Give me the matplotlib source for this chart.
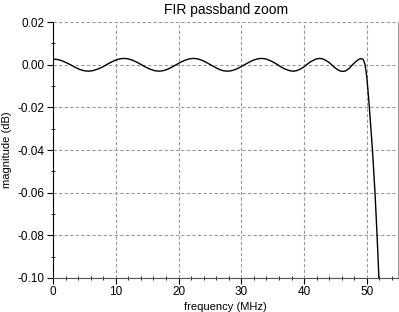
import matplotlib
matplotlib.use("Agg")
import matplotlib.pyplot as plt
from matplotlib.ticker import MultipleLocator, FuncFormatter

# frequency (MHz) and magnitude (dB)
freq = [0.0, 0.7, 1.4, 2.1, 2.8, 3.5, 4.2, 4.9, 5.6, 6.3, 7.05, 7.8, 8.5,
        9.2, 9.9, 10.6, 11.3, 12.0, 12.7, 13.4, 14.1, 14.8, 15.5, 16.2, 16.9,
        17.55, 18.25, 18.9, 19.6, 20.3, 21.0, 21.7, 22.4, 23.05, 23.75, 24.4,
        25.1, 25.8, 26.45, 27.1, 27.8, 28.45, 29.15, 29.8, 30.5, 31.2, 31.85,
        32.55, 33.2, 33.85, 34.5, 35.15, 35.8, 36.4, 37.05, 37.7, 38.3, 38.8,
        39.35, 39.9, 40.4, 40.9, 41.45, 42.0, 42.5, 43.0, 43.45, 43.95, 44.4,
        44.85, 45.3, 45.75, 46.2, 46.6, 46.95, 47.35, 47.7, 48.1, 48.45,
        48.85, 49.2, 49.4, 49.55, 49.7, 49.85, 50.0, 50.15, 50.3, 50.45,
        50.65, 50.9, 51.1, 51.3, 51.47, 51.63, 51.78, 51.92, 52.05]
mag = [0.0027, 0.0025, 0.0019, 0.0010, 0.0000,
       -0.00115, -0.0021, -0.00277, -0.0030, -0.00277, -0.0021, -0.00115, 0.0000,
       0.00115, 0.0021, 0.00277, 0.0030, 0.00277, 0.0021, 0.00115, 0.0000,
       -0.00115, -0.0021, -0.00277, -0.0030, -0.00277, -0.0021, -0.00115, 0.0000,
       0.00115, 0.0021, 0.00277, 0.0030, 0.00277, 0.0021, 0.00115, 0.0000,
       -0.00115, -0.0021, -0.00277, -0.0030, -0.00277, -0.0021, -0.00115, 0.0000,
       0.00115, 0.0021, 0.00277, 0.0030, 0.00277, 0.0021, 0.00115, 0.0000,
       -0.00115, -0.0021, -0.00277, -0.0030, -0.00277, -0.0021, -0.00115, 0.0000,
       0.00115, 0.0021, 0.00277, 0.0030, 0.00277, 0.0021, 0.00115, 0.0000,
       -0.0012, -0.0022, -0.0029, -0.0031, -0.0029, -0.0022, -0.0012, 0.0000,
       0.0011, 0.0020, 0.0027, 0.0029, 0.0025, 0.0016, 0.0003, -0.0025,
       -0.0060, -0.0110, -0.0160, -0.0220, -0.0300, -0.0400, -0.0500, -0.0600,
       -0.0700, -0.0800, -0.0900, -0.1000, -0.1100]

plt.rcParams["font.family"] = ["Liberation Sans", "DejaVu Sans"]
plt.rcParams["axes.unicode_minus"] = False

fig = plt.figure(figsize=(3.99, 3.12), dpi=100)
ax = fig.add_axes([0.133, 0.109, 0.865, 0.82])

ax.plot(freq, mag, color="black", lw=1.0)

ax.set_xlim(0, 55)
ax.set_ylim(-0.10, 0.02)
ax.xaxis.set_major_locator(MultipleLocator(10))
ax.xaxis.set_minor_locator(MultipleLocator(2))
ax.yaxis.set_major_locator(MultipleLocator(0.02))
ax.yaxis.set_minor_locator(MultipleLocator(0.01))
# round first so the zero tick doesn't come out as -0.00
ax.yaxis.set_major_formatter(FuncFormatter(lambda v, p: "%.2f" % (round(v, 4) + 0.0)))

ax.grid(True, which="major", color="#999999", linestyle=(0, (3, 2)), lw=0.8)
ax.tick_params(which="major", direction="out", length=4, width=0.8, labelsize=8.5, pad=2)
ax.tick_params(which="minor", direction="inout", length=3, width=0.6)

ax.spines["top"].set_visible(False)
ax.spines["right"].set_color("#999999")
ax.spines["left"].set_color("black")
ax.spines["bottom"].set_color("#555555")

ax.set_title("FIR passband zoom", fontsize=10, pad=6)
ax.set_xlabel("frequency (MHz)", fontsize=8, labelpad=3)
ax.set_ylabel("magnitude (dB)", fontsize=8, labelpad=4)

fig.savefig("out.png", dpi=100)
